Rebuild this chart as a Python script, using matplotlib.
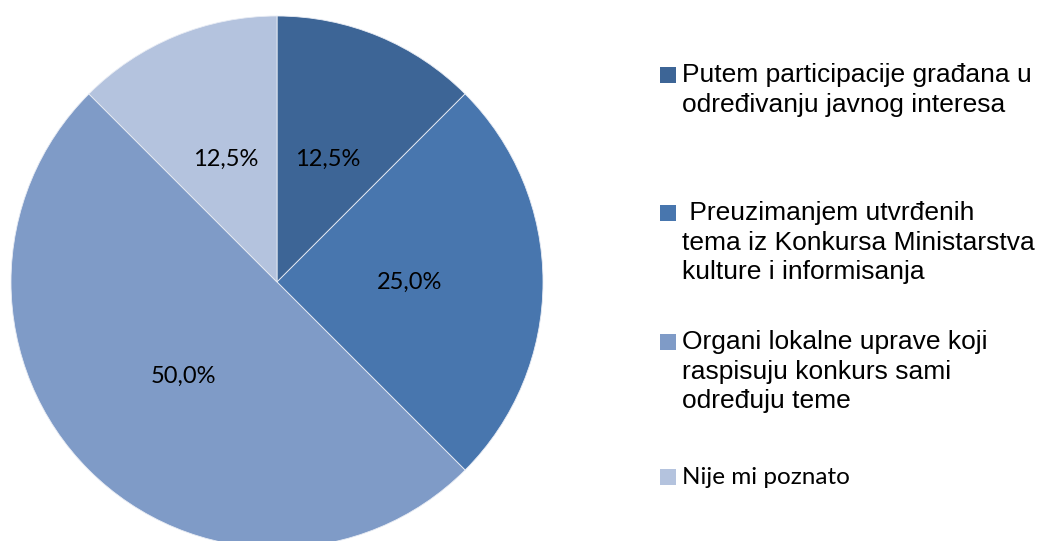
import matplotlib.pyplot as plt
from matplotlib.patches import Rectangle

# Data
labels = ['Putem participacije građana u\nodređivanju javnog interesa',
          ' Preuzimanjem utvrđenih\ntema iz Konkursa Ministarstva\nkulture i informisanja',
          'Organi lokalne uprave koji\nraspisuju konkurs sami\nodređuju teme',
          'Nije mi poznato']
shares = [12.5, 25.0, 50.0, 12.5]
colors = ['#3D6596', '#4876AE', '#7F9BC7', '#B4C3DE']

fig = plt.figure(figsize=(10.41, 5.41), dpi=100)
ax = fig.add_axes([0, 0, 1, 1])

wedges, texts, autotexts = ax.pie(
    shares, colors=colors, startangle=90, counterclock=False,
    center=(277, 259), radius=266, frame=True,
    autopct=lambda p: ('%.1f%%' % p).replace('.', ','), pctdistance=0.5,
    wedgeprops=dict(edgecolor='#E8ECF4', linewidth=0.6),
    textprops=dict(fontsize=17, family='Lato', color='black'))
ax.set_xlim(0, 1041)
ax.set_ylim(0, 541)
ax.axis('off')

# legend drawn by hand
legend_y = [466, 328, 199, 64]   # first line centre of each entry (from bottom)
for lab, col, y in zip(labels, colors, legend_y):
    ax.add_patch(Rectangle((660, y - 8), 16, 16, facecolor=col, edgecolor='none'))
    if lab == 'Nije mi poznato':
        ax.text(682, y, lab, fontsize=17.5, family='Lato', va='center', ha='left')
    else:
        ax.text(682, y + 12, lab, fontsize=19, family='Liberation Sans',
                va='top', ha='left', linespacing=1.3)

fig.savefig('out.png', dpi=100)
